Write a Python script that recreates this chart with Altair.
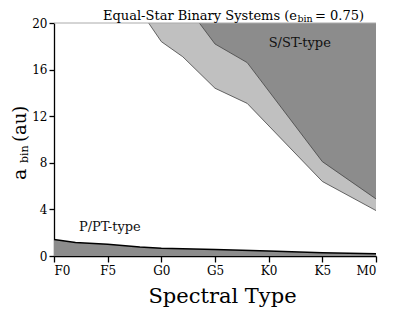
import altair as alt
import pandas as pd

# ---- data ----
tick_labels = ["F0", "F5", "G0", "G5", "K0", "K5", "M0"]
tick_pos = [0, 5, 10, 15, 20, 25, 30]

light_x = [8, 10, 12, 15, 18, 25, 30]
light_y = [21.1, 18.4, 17.1, 14.4, 13.1, 6.4, 3.9]

dark_x = [12, 15, 18, 25, 30]
dark_y = [21.9, 18.2, 16.6, 8.1, 4.9]

p_x = [0, 2, 5, 8, 10, 15, 20, 25, 30]
p_y = [1.41, 1.15, 1.0, 0.77, 0.67, 0.55, 0.43, 0.28, 0.2]

label_text = ["S/ST-type", "P/PT-type"]
label_x = [22.9, 5.2]
label_y = [18.3, 2.5]

FONT = "DejaVu Serif"
W, H = 322, 233

light = pd.DataFrame({"x": light_x, "y": light_y})
dark = pd.DataFrame({"x": dark_x, "y": dark_y})
ptype = pd.DataFrame({"x": p_x, "y": p_y})
labels = pd.DataFrame({"x": label_x, "y": label_y, "t": label_text})

label_expr = "[" + ",".join(f"'{t}'" for t in tick_labels) + "][round(datum.value/5)]"

xs = alt.Scale(domain=[0, 30], nice=False, zero=False)
ys = alt.Scale(domain=[0, 20], nice=False)

xax = alt.Axis(values=tick_pos, labelExpr=label_expr, title=None, grid=False,
               domainColor="black", domainWidth=1.3, tickColor="black", tickWidth=1.3,
               tickSize=6, labelFont=FONT, labelFontSize=12, labelColor="black",
               labelPadding=3)
yax = alt.Axis(values=list(range(0, 21, 2)), title=None, grid=False,
               domainColor="black", domainWidth=1.3, tickColor="black", tickWidth=1.3,
               tickSize=5, labelFont=FONT, labelFontSize=12, labelColor="black",
               labelPadding=2)

X = alt.X("x:Q", scale=xs, axis=xax)
Y = alt.Y("y:Q", scale=ys, axis=yax)

def region(df, fill):
    a = alt.Chart(df).mark_area(color=fill, clip=True, opacity=1).encode(
        x=X, y=Y, y2=alt.datum(20))
    l = alt.Chart(df).mark_line(color="#444444", strokeWidth=0.8, clip=True).encode(x=X, y=Y)
    return a + l

light_layer = region(light, "#c0c0c0")
dark_layer = region(dark, "#8c8c8c")

p_area = alt.Chart(ptype).mark_area(color="#8c8c8c", clip=True).encode(x=X, y=Y)
p_line = alt.Chart(ptype).mark_line(color="black", strokeWidth=1.5, clip=True).encode(x=X, y=Y)

top_rule = alt.Chart(alt.Data(values=[{}])).mark_rule(color="#aaaaaa", strokeWidth=1).encode(
    x=alt.value(0), x2=alt.value(W), y=alt.value(0))

lab = alt.Chart(labels).mark_text(font=FONT, fontSize=13, color="#111111").encode(
    x=alt.X("x:Q", scale=xs), y=alt.Y("y:Q", scale=ys), text="t:N")


def txt(s, x, y, size, align="left", angle=None):
    kw = dict(text=s, font=FONT, fontSize=size, align=align, baseline="alphabetic", color="black")
    if angle is not None:
        kw["angle"] = angle
    return alt.Chart(alt.Data(values=[{"k": s}])).mark_text(**kw).encode(
        x=alt.value(x), y=alt.value(y))

title = (txt("Equal-Star Binary Systems (e", 243, -3, 13, align="right")
         + txt("bin", 243.5, -1, 9.5)
         + txt("= 0.75)", 261, -3, 13))

ytitle = (txt("a", -28, 157, 19, angle=270)
          + txt("bin", -26, 140, 11, angle=270)
          + txt("(au)", -28, 119, 18, angle=270))

xtitle = txt("Spectral Type", 168.5, 279.5, 21, align="center")

chart = alt.layer(
    light_layer, dark_layer, p_area, p_line, top_rule, lab, title, ytitle, xtitle
).properties(
    width=W, height=H,
    autosize=alt.AutoSizeParams(type="none"),
    padding={"left": 46, "top": 15, "right": 31, "bottom": 56},
).configure_view(stroke=None)

chart.save("out.html", embed_options={"renderer": "svg", "actions": False})
